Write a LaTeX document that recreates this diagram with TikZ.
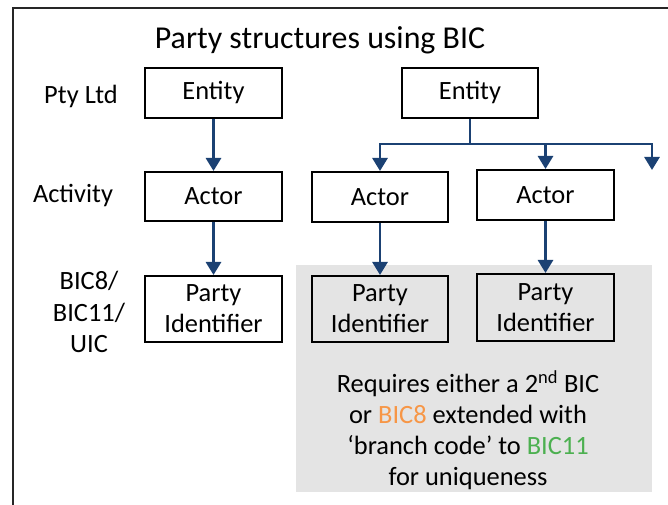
\documentclass[tikz,border=0pt]{standalone}
\usepackage{fontspec}
\setmainfont{Carlito}
\usetikzlibrary{arrows.meta,calc}
\definecolor{arrowblue}{HTML}{1B4173}
\definecolor{graybg}{HTML}{E4E4E4}
\definecolor{bicorange}{HTML}{F79646}
\definecolor{bicgreen}{HTML}{4CB050}
\tikzset{
  boxnode/.style={draw=black, line width=2bp, minimum width=137bp, inner sep=0pt, align=center,
    font=\fontsize{26.5}{31}\selectfont},
  lbl/.style={align=center, inner sep=0pt, font=\fontsize{26.5}{32}\selectfont},
  conn/.style={draw=arrowblue, line width=2.8bp, -{Triangle[width=15bp,length=13bp]}},
  connplain/.style={draw=arrowblue, line width=2.8bp}
}
\begin{document}
\begin{tikzpicture}[x=1bp,y=-1bp]
\useasboundingbox (0,0) rectangle (668,505);
\clip (0,0) rectangle (668,505);
% outer frame
\draw[line width=2.2bp, draw=black!85] (13,8) rectangle (690,530);
% grey area
\fill[graybg] (296,265) rectangle (652,492);
% title
\node[lbl, font=\fontsize{32}{38}\selectfont] (title) at (320,40) {Party structures using BIC};
% left labels
\node[lbl] (ptyltd) at (81,96) {Pty Ltd};
\node[lbl] (activity) at (73,196) {Activity};
\node[lbl] (bic) at (89,312) {BIC8/\\BIC11/\\UIC};
% boxes
\node[boxnode, minimum height=50bp] (E1) at (213.5,93) {Entity};
\node[boxnode, minimum height=50bp, minimum width=136bp] (E2) at (470,93) {Entity};
\node[boxnode, minimum height=49bp] (A1) at (213.5,196.5) {Actor};
\node[boxnode, minimum height=50bp, minimum width=136bp] (A2) at (380,197) {Actor};
\node[boxnode, minimum height=50bp] (A3) at (545.5,195) {Actor};
\node[boxnode, minimum height=66bp] (P1) at (213.5,309) {Party\\Identifier};
\node[boxnode, minimum height=66bp, minimum width=136bp] (P2) at (380,309) {Party\\Identifier};
\node[boxnode, minimum height=67bp] (P3) at (545.5,307.5) {Party\\Identifier};
% note
\node[lbl, font=\fontsize{26.5}{31}\selectfont] (note) at (468,430)
  {Requires either a 2\textsuperscript{nd} BIC\\
   or \textcolor{bicorange}{BIC8} extended with\\
   ‘branch code’ to \textcolor{bicgreen}{BIC11}\\
   for uniqueness};
% connectors
\coordinate (j) at (470,144);
\coordinate (free) at (652,170);
\draw[conn] (E1.south) -- (A1.north);
\draw[conn] (A1.south) -- (P1.north);
\draw[connplain] (E2.south) -- (j);
\draw[conn] (j) -| (A2.north);
\draw[conn] (j) -| (A3.north);
\draw[conn] (j) -| (free);
\draw[conn] (A2.south) -- (P2.north);
\draw[conn] (A3.south) -- (P3.north);
\end{tikzpicture}
\end{document}
